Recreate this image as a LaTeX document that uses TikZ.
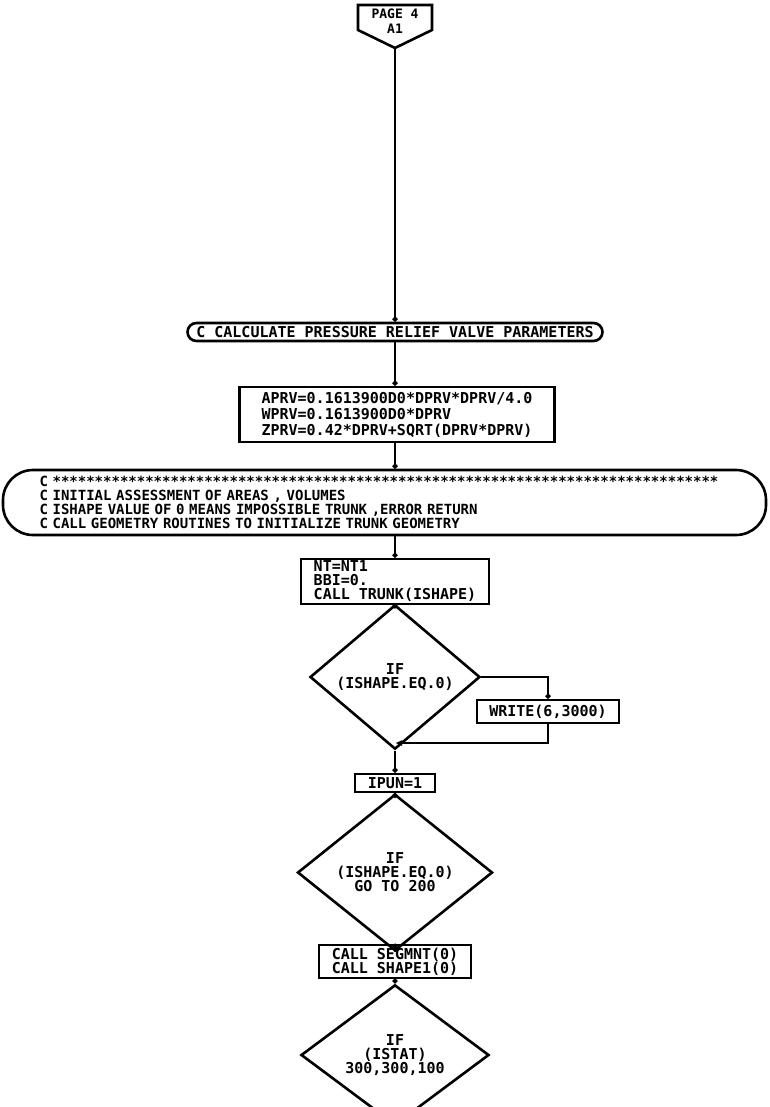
\documentclass[tikz,border=0pt]{standalone}
\usepackage{fontspec}
\setmonofont{DejaVu Sans Mono}
\usetikzlibrary{arrows.meta,shapes.geometric}
\tikzset{
  box/.style={draw, line width=2.6pt, rectangle, inner sep=2pt, align=left},
  term/.style={draw, line width=2.6pt, rounded corners=9pt, inner sep=2pt},
  cmt/.style={draw, line width=2.6pt, rounded corners=30pt, inner sep=0pt, align=left,
    font=\ttfamily\bfseries\fontsize{14}{14}\selectfont},
  dec/.style={draw, diamond, line width=2.6pt, inner sep=0pt, align=center},
  flow/.style={line width=2.2pt, -{Circle[length=5pt]}},
  ret/.style={line width=2.2pt, -{Latex[length=7pt,width=6pt]}},
}
\begin{document}
\begin{tikzpicture}[x=1pt,y=-1pt,font=\ttfamily\bfseries\fontsize{15}{14}\selectfont]
\fill[white] (0,0) rectangle (769,1107);
\useasboundingbox (0,0) rectangle (769,1107);
% off-page connector
\draw[line width=2.6pt] (358,5) -- (432,5) -- (432,30) -- (395,48) -- (358,30) -- cycle;
\node[inner sep=0pt, align=center, font=\ttfamily\bfseries\fontsize{13}{15}\selectfont] (conn) at (395,21) {PAGE 4\\A1};
\coordinate (connb) at (395,48);
% nodes
\node[term, minimum width=415pt, minimum height=18pt] (t1) at (395,332) {C CALCULATE PRESSURE RELIEF VALVE PARAMETERS};
\node[box, minimum width=315pt, minimum height=55pt, font=\ttfamily\bfseries\fontsize{15}{16}\selectfont] (b1) at (397,414.5)
  {APRV=0.1613900D0*DPRV*DPRV/4.0\\WPRV=0.1613900D0*DPRV\\ZPRV=0.42*DPRV+SQRT(DPRV*DPRV)};
\node[cmt, text width=690pt, minimum width=763pt, minimum height=65pt] (c1) at (384.5,502.5)
  {C *******************************************************************************\\
   C INITIAL ASSESSMENT OF AREAS , VOLUMES\\
   C ISHAPE VALUE OF 0 MEANS IMPOSSIBLE TRUNK ,ERROR RETURN\\
   C CALL GEOMETRY ROUTINES TO INITIALIZE TRUNK GEOMETRY};
\node[box, minimum width=188pt, minimum height=43pt] (b2) at (395,581.5)
  {NT=NT1\\BBI=0.\\CALL TRUNK(ISHAPE)};
\node[dec, minimum width=170pt, minimum height=94pt] (d1) at (395,677) {IF\\(ISHAPE.EQ.0)};
\node[box, minimum width=142pt, minimum height=23pt] (w) at (548,711.5) {WRITE(6,3000)};
\coordinate (j1) at (395,743);
\node[box, minimum width=80pt, minimum height=18pt] (ipun) at (395,783) {IPUN=1};
\node[dec, minimum width=195pt, minimum height=105pt] (d2) at (395,872.5) {IF\\(ISHAPE.EQ.0)\\GO TO 200};
\node[box, minimum width=152pt, minimum height=33pt] (b3) at (395,961.5) {CALL SEGMNT(0)\\CALL SHAPE1(0)};
\node[dec, minimum width=188pt, minimum height=94pt] (d3) at (395,1055) {IF\\(ISTAT)\\300,300,100};
% connectors
\draw[flow] (connb) -- (connb |- t1.north);
\draw[flow] (t1.south) -- (t1.south |- b1.north);
\draw[flow] (t1.south |- b1.south) -- (t1.south |- c1.north);
\draw[flow] (b2.north |- c1.south) -- (b2.north);
\draw[flow] (b2.south) -- (d1.north);
\draw[flow] (d1.east) -| (w.north);
\draw[ret] (w.south) |- (j1);
\draw[flow] (d1.south) -- (ipun.north);
\draw[flow] (ipun.south) -- (d2.north);
\draw[flow] (d2.south) -- (b3.north);
\draw[flow] (b3.south) -- (d3.north);
\end{tikzpicture}
\end{document}
